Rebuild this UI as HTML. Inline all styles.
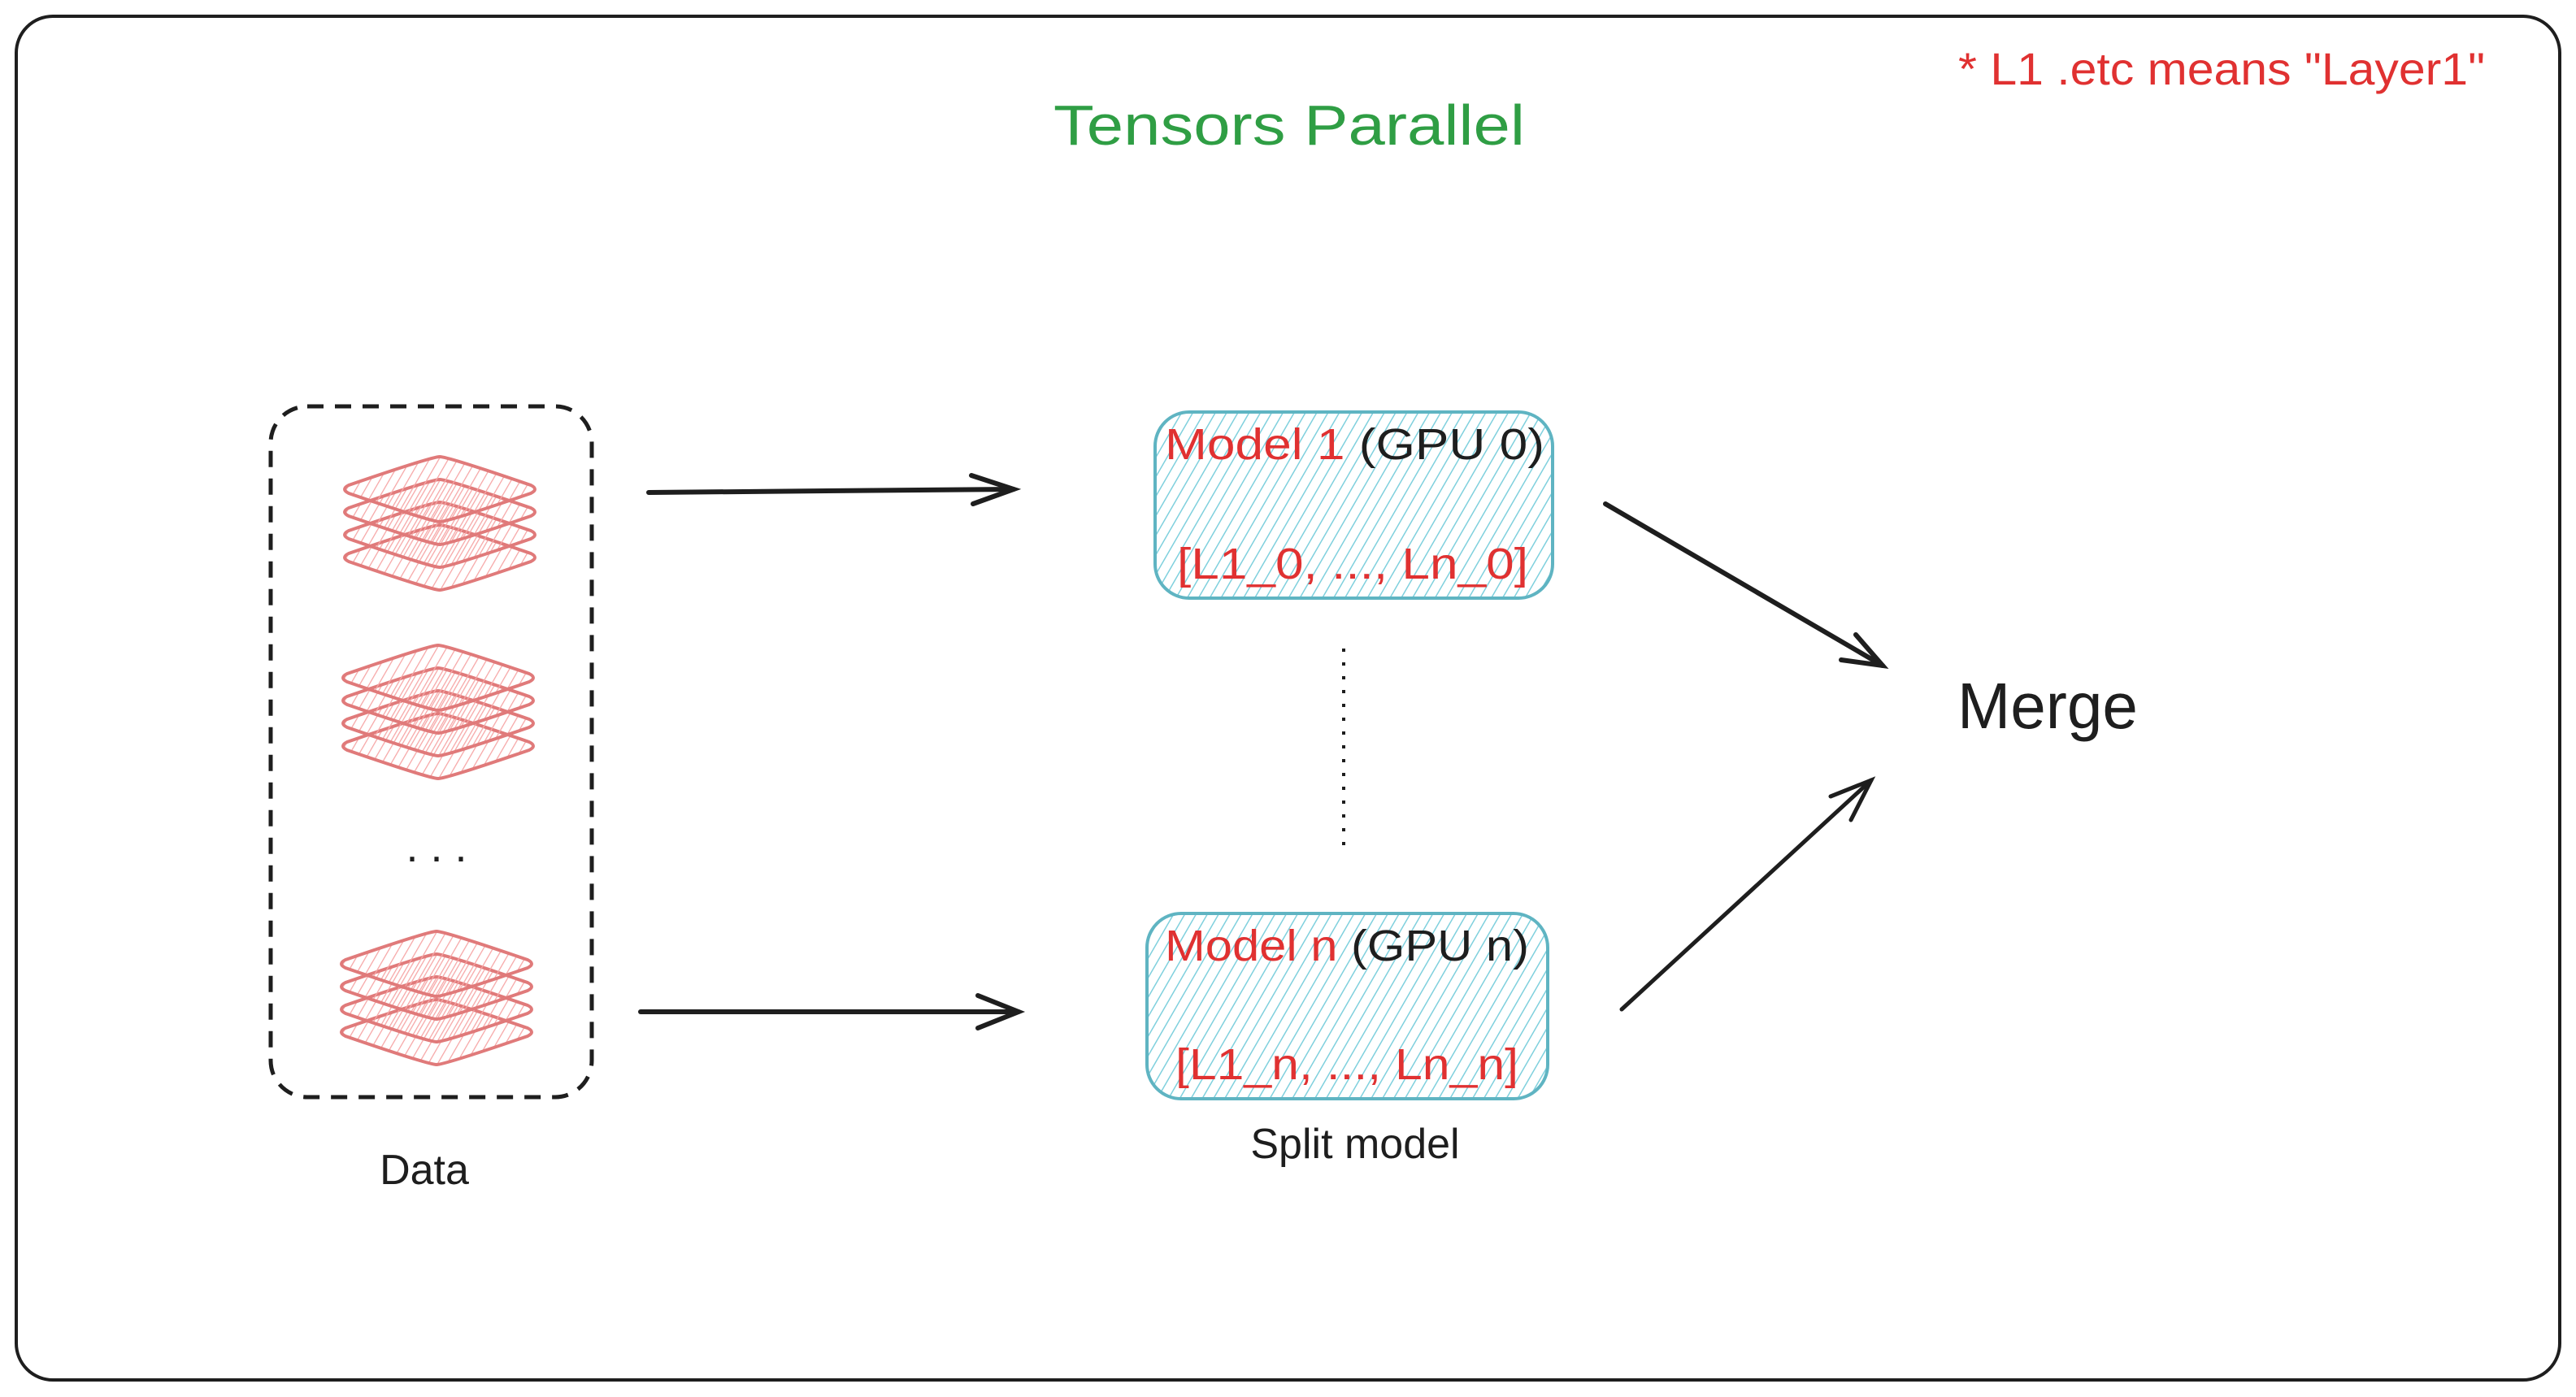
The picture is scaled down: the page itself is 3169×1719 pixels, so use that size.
<!DOCTYPE html>
<html><head><meta charset="utf-8"><style>
html,body{margin:0;padding:0;background:#fff;}
svg{display:block;}
text{font-family:"Liberation Sans",sans-serif;}
</style></head><body>
<svg width="3169" height="1719" viewBox="0 0 3169 1719" xmlns="http://www.w3.org/2000/svg">
<defs>
<pattern id="hc" width="12" height="12" patternUnits="userSpaceOnUse" patternTransform="rotate(30)">
<rect width="12" height="12" fill="#fff"/>
<line x1="0" y1="0" x2="0" y2="12" stroke="#7fd0dd" stroke-width="3"/>
</pattern>
<pattern id="hr" width="10" height="10" patternUnits="userSpaceOnUse" patternTransform="rotate(30)">
<line x1="0" y1="0" x2="0" y2="10" stroke="#f6a5a5" stroke-width="2.5"/>
</pattern>
<g id="layer">
<path d="M0,-40 Q10,-40 112,-5 Q122,0 112,5 Q10,40 0,40 Q-10,40 -112,5 Q-122,0 -112,-5 Q-10,-40 0,-40Z" fill="url(#hr)" stroke="#e07a7a" stroke-width="4"/>
</g>
<g id="stack">
<use href="#layer" y="84"/><use href="#layer" y="56"/><use href="#layer" y="28"/><use href="#layer" y="0"/>
</g>
</defs>
<rect x="20" y="20" width="3129" height="1678" rx="45" fill="#fff" stroke="#1e1e1e" stroke-width="4"/>
<text x="1586" y="178" font-size="70" fill="#2f9e44" text-anchor="middle" textLength="580" lengthAdjust="spacingAndGlyphs">Tensors  Parallel</text>
<text x="2409" y="104" font-size="56" fill="#e03131" textLength="648" lengthAdjust="spacingAndGlyphs">* L1 .etc means "Layer1"</text>

<rect x="333" y="500" width="395" height="850" rx="45" fill="none" stroke="#1e1e1e" stroke-width="5" stroke-dasharray="20,14"/>
<use href="#stack" x="541" y="602"/>
<use href="#stack" x="539" y="834"/>
<use href="#stack" x="537" y="1186"/>
<text x="537" y="1060" font-size="54" fill="#1e1e1e" text-anchor="middle">. . .</text>
<text x="522" y="1457" font-size="52" fill="#1e1e1e" text-anchor="middle">Data</text>

<rect x="1421" y="507" width="489" height="229" rx="42" fill="url(#hc)" stroke="#5fb4c2" stroke-width="4"/>
<text x="1433" y="565" font-size="54" fill="#e03131" textLength="467" lengthAdjust="spacingAndGlyphs">Model 1  <tspan fill="#1e1e1e">(GPU 0)</tspan></text>
<text x="1448" y="712" font-size="54" fill="#e03131" textLength="432" lengthAdjust="spacingAndGlyphs">[L1_0, ..., Ln_0]</text>

<rect x="1411" y="1124" width="493" height="228" rx="42" fill="url(#hc)" stroke="#5fb4c2" stroke-width="4"/>
<text x="1433" y="1182" font-size="54" fill="#e03131" textLength="448" lengthAdjust="spacingAndGlyphs">Model n <tspan fill="#1e1e1e">(GPU n)</tspan></text>
<text x="1446" y="1328" font-size="54" fill="#e03131" textLength="422" lengthAdjust="spacingAndGlyphs">[L1_n, ..., Ln_n]</text>

<line x1="1653" y1="798" x2="1653" y2="1052" stroke="#1e1e1e" stroke-width="4" stroke-dasharray="4,13"/>
<text x="1667" y="1425" font-size="52" fill="#1e1e1e" text-anchor="middle">Split model</text>

<g stroke="#1e1e1e" stroke-width="6" fill="none" stroke-linecap="round">
<path d="M798,606 L1247,602"/><path d="M1195,585 L1247,602 L1197,620"/>
<path d="M788,1245 L1253,1245"/><path d="M1203,1225 L1253,1245 L1203,1265"/>
<path d="M1975,620 L2316,819"/><path d="M2283,781 L2316,819 L2265,812"/>
<path d="M1995,1242 L2302,960" stroke-width="5"/><path d="M2252,980 L2302,960 L2277,1009" stroke-width="5"/>
</g>
<text x="2408" y="896" font-size="80" fill="#1e1e1e" textLength="222" lengthAdjust="spacingAndGlyphs">Merge</text>
</svg>
</body></html>
